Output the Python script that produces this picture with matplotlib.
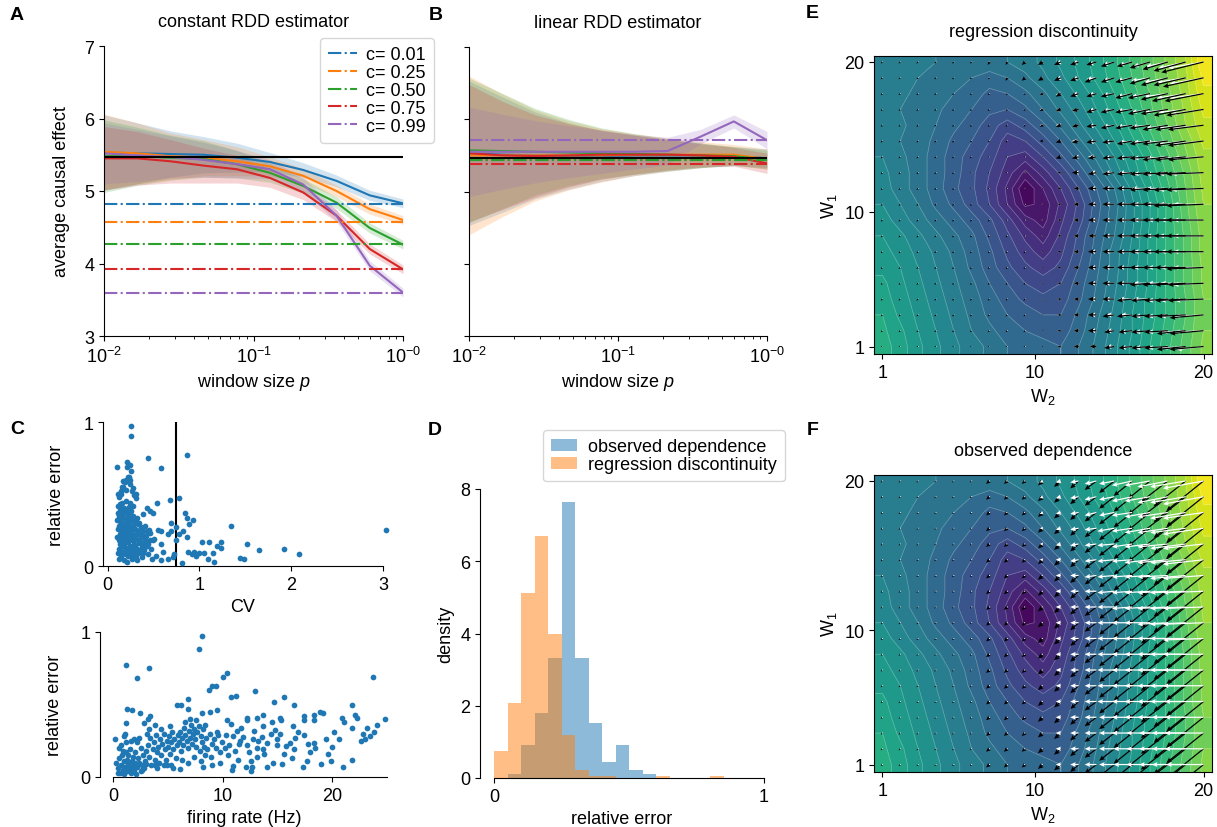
import numpy as np
import matplotlib.pyplot as plt

plt.rcParams['font.family'] = ['Liberation Sans', 'DejaVu Sans']
plt.rcParams['font.size'] = 13
plt.rcParams['axes.titlesize'] = 13
plt.rcParams['mathtext.fontset'] = 'custom'
plt.rcParams['mathtext.rm'] = 'Liberation Sans'
plt.rcParams['mathtext.it'] = 'Liberation Sans:italic'

# ---------------- data: panels A / B ----------------
window = [0.01, 0.0167, 0.0278, 0.0464, 0.0774, 0.129, 0.215, 0.359, 0.599, 1.0]
c_vals = ['0.01', '0.25', '0.50', '0.75', '0.99']
true_effect = 5.47

const_naive = [4.82, 4.57, 4.27, 3.92, 3.60]
const_mean = [
    [5.53, 5.52, 5.51, 5.50, 5.46, 5.40, 5.29, 5.14, 4.94, 4.83],
    [5.54, 5.52, 5.48, 5.46, 5.41, 5.34, 5.21, 5.00, 4.75, 4.60],
    [5.48, 5.48, 5.46, 5.44, 5.37, 5.25, 5.07, 4.84, 4.49, 4.26],
    [5.45, 5.45, 5.41, 5.35, 5.30, 5.18, 4.98, 4.66, 4.20, 3.92],
    [5.52, 5.49, 5.47, 5.43, 5.37, 5.30, 5.09, 4.66, 3.97, 3.60],
]
const_sd = [
    [0.52, 0.42, 0.32, 0.25, 0.20, 0.13, 0.10, 0.08, 0.07, 0.06],
    [0.52, 0.42, 0.32, 0.25, 0.20, 0.13, 0.10, 0.08, 0.07, 0.06],
    [0.50, 0.40, 0.31, 0.25, 0.19, 0.13, 0.10, 0.08, 0.07, 0.06],
    [0.44, 0.37, 0.30, 0.24, 0.19, 0.13, 0.10, 0.08, 0.07, 0.06],
    [0.42, 0.36, 0.29, 0.24, 0.19, 0.13, 0.10, 0.08, 0.07, 0.06],
]

lin_naive = [5.43, 5.43, 5.43, 5.38, 5.71]
lin_mean = [
    [5.53, 5.51, 5.50, 5.49, 5.49, 5.50, 5.50, 5.50, 5.49, 5.46],
    [5.50, 5.50, 5.50, 5.50, 5.50, 5.51, 5.51, 5.51, 5.51, 5.45],
    [5.57, 5.56, 5.55, 5.54, 5.53, 5.52, 5.51, 5.50, 5.49, 5.44],
    [5.53, 5.50, 5.49, 5.50, 5.51, 5.51, 5.51, 5.50, 5.48, 5.39],
    [5.55, 5.55, 5.55, 5.55, 5.55, 5.55, 5.56, 5.76, 5.97, 5.71],
]
lin_sd = [
    [1.00, 0.80, 0.60, 0.46, 0.35, 0.28, 0.22, 0.17, 0.13, 0.13],
    [1.10, 0.85, 0.63, 0.48, 0.37, 0.29, 0.23, 0.18, 0.14, 0.14],
    [1.00, 0.80, 0.60, 0.46, 0.35, 0.28, 0.22, 0.17, 0.13, 0.13],
    [0.95, 0.75, 0.57, 0.44, 0.34, 0.27, 0.21, 0.16, 0.13, 0.14],
    [0.62, 0.52, 0.43, 0.36, 0.30, 0.24, 0.19, 0.10, 0.09, 0.12],
]

# ---------------- data: panel C ----------------
cv_points = [
    (0.25, 0.97), (0.26, 0.90), (0.10, 0.69), (0.21, 0.72), (0.21, 0.69), (0.44, 0.75), (0.58, 0.68), (0.86, 0.77),
    (0.22, 0.62), (0.20, 0.60), (0.24, 0.60), (0.17, 0.59), (0.16, 0.55), (0.28, 0.54), (0.11, 0.50), (0.15, 0.50),
    (0.31, 0.50), (0.68, 0.46), (0.78, 0.47), (0.54, 0.44), (0.84, 0.37), (0.86, 0.33), (0.93, 0.32), (0.89, 0.29),
    (0.43, 0.40), (0.46, 0.38), (0.49, 0.37), (0.39, 0.36), (0.69, 0.30), (0.86, 0.20), (1.34, 0.28),
    (1.03, 0.17), (1.19, 0.14), (1.24, 0.17), (1.24, 0.125), (1.10, 0.17), (1.15, 0.09), (1.16, 0.03), (1.09, 0.05),
    (1.05, 0.09), (1.52, 0.15), (1.65, 0.11), (1.44, 0.056), (1.49, 0.047), (1.92, 0.12), (2.08, 0.08), (3.03, 0.25),
    (0.92, 0.08), (0.96, 0.07), (0.81, 0.02), (0.78, 0.22), (0.82, 0.24), (0.75, 0.18), (0.71, 0.06), (0.66, 0.05),
    (0.58, 0.04), (0.53, 0.07), (0.60, 0.10), (0.58, 0.15), (0.51, 0.19), (0.55, 0.25), (0.58, 0.24), (0.46, 0.23),
    (0.49, 0.18), (0.66, 0.22), (0.69, 0.24), (0.74, 0.27), (0.72, 0.08), (0.88, 0.10), (0.94, 0.10), (1.00, 0.09),
    (0.11, 0.42), (0.12, 0.35), (0.12, 0.28), (0.13, 0.22), (0.13, 0.15), (0.11, 0.09), (0.12, 0.05), (0.14, 0.38),
    (0.14, 0.31), (0.15, 0.25), (0.15, 0.18), (0.14, 0.12), (0.15, 0.07), (0.16, 0.44), (0.16, 0.34), (0.17, 0.29),
    (0.17, 0.21), (0.16, 0.14), (0.17, 0.10), (0.18, 0.04), (0.18, 0.40), (0.19, 0.33), (0.19, 0.26), (0.18, 0.19),
    (0.19, 0.13), (0.20, 0.08), (0.20, 0.45), (0.21, 0.37), (0.21, 0.30), (0.20, 0.23), (0.22, 0.17), (0.22, 0.11),
    (0.21, 0.03), (0.23, 0.41), (0.23, 0.34), (0.24, 0.27), (0.23, 0.20), (0.24, 0.14), (0.25, 0.07), (0.25, 0.38),
    (0.26, 0.31), (0.26, 0.24), (0.27, 0.18), (0.26, 0.10), (0.27, 0.05), (0.28, 0.35), (0.28, 0.28), (0.29, 0.21),
    (0.29, 0.15), (0.30, 0.08), (0.30, 0.32), (0.31, 0.25), (0.31, 0.19), (0.32, 0.12), (0.32, 0.04), (0.33, 0.29),
    (0.34, 0.23), (0.34, 0.16), (0.35, 0.10), (0.36, 0.27), (0.36, 0.20), (0.37, 0.13), (0.38, 0.06), (0.39, 0.24),
    (0.40, 0.17), (0.40, 0.11), (0.41, 0.28), (0.42, 0.21), (0.43, 0.14), (0.44, 0.08), (0.45, 0.25), (0.46, 0.18),
    (0.47, 0.12), (0.48, 0.05), (0.10, 0.32), (0.10, 0.20), (0.11, 0.26), (0.12, 0.18), (0.13, 0.40), (0.13, 0.33),
    (0.14, 0.20), (0.15, 0.30), (0.16, 0.23), (0.16, 0.08), (0.17, 0.37), (0.18, 0.27), (0.18, 0.15), (0.19, 0.21),
    (0.20, 0.31), (0.20, 0.12), (0.21, 0.25), (0.22, 0.07), (0.22, 0.29), (0.23, 0.23), (0.24, 0.09), (0.24, 0.32),
    (0.25, 0.19), (0.26, 0.13), (0.27, 0.27), (0.28, 0.11), (0.28, 0.19), (0.29, 0.30), (0.30, 0.14), (0.31, 0.06),
    (0.32, 0.22), (0.33, 0.09), (0.34, 0.30), (0.35, 0.17), (0.37, 0.22), (0.38, 0.15), (0.39, 0.09), (0.41, 0.18),
    (0.43, 0.24), (0.44, 0.15), (0.12, 0.48), (0.14, 0.50), (0.15, 0.52), (0.17, 0.55), (0.19, 0.58), (0.20, 0.53),
    (0.22, 0.60), (0.23, 0.62), (0.24, 0.57), (0.27, 0.52), (0.29, 0.49), (0.31, 0.47), (0.24, 0.70), (0.26, 0.66),
    (0.11, 0.37), (0.12, 0.12), (0.13, 0.27), (0.14, 0.43), (0.15, 0.36), (0.16, 0.27), (0.17, 0.17), (0.18, 0.33),
    (0.19, 0.09), (0.20, 0.38), (0.21, 0.19), (0.22, 0.35), (0.23, 0.27), (0.24, 0.44), (0.25, 0.12), (0.26, 0.35),
    (0.27, 0.22), (0.28, 0.42), (0.29, 0.09), (0.30, 0.26), (0.32, 0.33), (0.33, 0.18), (0.35, 0.25), (0.36, 0.11),
]
cv_threshold = 0.74

rate_points = [
    (8.13, 0.97), (7.82, 0.88), (1.13, 0.77), (3.29, 0.75), (2.19, 0.68), (10.44, 0.72), (10.02, 0.69), (9.04, 0.63),
    (9.35, 0.63), (8.74, 0.60), (23.75, 0.69), (12.97, 0.59), (10.72, 0.55), (11.18, 0.56), (14.7, 0.52), (15.56, 0.55),
    (16.53, 0.50), (21.8, 0.50), (22.07, 0.43), (24.8, 0.40), (5.8, 0.50), (6.2, 0.50), (6.82, 0.54), (6.88, 0.47),
    (1.31, 0.47), (1.68, 0.46), (2.41, 0.44), (1.16, 0.37), (2.8, 0.37), (3.2, 0.40), (3.4, 0.42), (3.8, 0.36),
    (8.07, 0.44), (8.83, 0.45), (9.5, 0.46), (10.41, 0.39), (11.33, 0.32), (12.18, 0.41), (12.25, 0.39), (13.1, 0.41),
    (13.7, 0.43), (14.5, 0.38), (15.2, 0.41), (15.3, 0.39), (16.4, 0.35), (17.4, 0.42), (17.4, 0.39), (18.3, 0.43),
    (18.3, 0.39), (18.9, 0.45), (19.2, 0.44), (20.9, 0.41), (21.1, 0.38), (21.8, 0.34), (23.0, 0.26), (23.2, 0.34),
    (23.8, 0.31), (22.6, 0.25), (20.2, 0.31), (20.6, 0.26), (19.4, 0.26), (20.0, 0.21), (19.6, 0.16), (19.9, 0.11),
    (21.8, 0.12), (21.0, 0.07), (19.0, 0.09), (18.0, 0.17), (17.3, 0.067), (17.7, 0.11), (16.35, 0.13), (15.6, 0.16),
    (14.6, 0.10), (15.4, 0.09), (14.07, 0.068), (13.8, 0.16), (13.1, 0.14), (12.6, 0.11), (12.7, 0.072), (12.6, 0.041),
    (12.1, 0.072), (10.96, 0.079), (10.87, 0.045), (9.8, 0.10), (9.0, 0.08), (8.2, 0.072), (6.1, 0.057), (5.3, 0.08),
    (4.9, 0.085), (3.8, 0.08), (11.63, 0.248), (12.18, 0.218), (12.42, 0.172), (12.79, 0.264), (13.24, 0.248),
    (14.09, 0.237), (14.98, 0.26), (14.92, 0.223), (15.74, 0.214), (16.13, 0.237), (16.59, 0.271), (16.9, 0.31),
    (17.41, 0.292), (17.81, 0.225), (18.36, 0.237), (18.42, 0.202), (16.5, 0.191), (13.18, 0.202), (13.7, 0.195),
    (14.4, 0.299), (14.76, 0.326), (15.22, 0.294), (13.7, 0.349), (12.88, 0.317), (13.55, 0.276), (11.87, 0.276),
    (11.48, 0.225), (11.72, 0.34), (10.8, 0.368), (10.2, 0.20), (10.5, 0.15), (10.9, 0.28), (11.1, 0.18), (10.3, 0.29),
    (11.4, 0.12), (10.6, 0.22), (22.3, 0.41), (23.5, 0.28), (22.8, 0.30), (24.1, 0.36),
    (0.3, 0.10), (0.4, 0.06), (0.5, 0.13), (0.6, 0.03), (0.7, 0.08), (0.8, 0.15), (0.9, 0.05), (1.0, 0.11),
    (1.0, 0.02), (1.1, 0.07), (1.2, 0.17), (1.3, 0.04), (1.3, 0.12), (1.4, 0.09), (1.5, 0.06), (1.5, 0.19),
    (1.6, 0.03), (1.7, 0.11), (1.8, 0.08), (1.8, 0.14), (1.9, 0.05), (2.0, 0.17), (2.0, 0.10), (2.1, 0.02),
    (2.2, 0.07), (2.3, 0.13), (2.4, 0.10), (2.5, 0.04), (2.5, 0.20), (2.6, 0.08), (2.7, 0.15), (2.8, 0.06),
    (2.9, 0.11), (3.0, 0.18), (3.0, 0.09), (0.2, 0.26), (0.5, 0.20), (0.7, 0.22), (1.0, 0.28), (1.1, 0.30),
    (1.2, 0.24), (1.6, 0.25), (1.9, 0.26), (2.2, 0.24), (2.4, 0.27), (0.4, 0.03), (0.9, 0.18), (1.4, 0.15),
    (2.6, 0.05), (3.2, 0.22), (3.3, 0.14), (3.4, 0.27), (3.5, 0.08), (3.6, 0.19), (3.7, 0.24), (3.8, 0.12),
    (3.9, 0.29), (4.0, 0.17), (4.1, 0.21), (4.2, 0.10), (4.3, 0.26), (4.4, 0.15), (4.5, 0.23), (4.6, 0.30),
    (4.7, 0.19), (4.8, 0.12), (4.9, 0.25), (5.0, 0.21), (5.1, 0.28), (5.2, 0.16), (5.3, 0.24), (5.4, 0.31),
    (5.5, 0.19), (5.6, 0.26), (5.7, 0.13), (5.8, 0.22), (5.9, 0.29), (6.0, 0.24), (3.3, 0.33), (4.0, 0.06),
    (4.6, 0.08), (5.5, 0.06), (3.1, 0.30), (4.4, 0.33), (5.2, 0.35), (6.1, 0.31), (6.2, 0.18), (6.3, 0.27),
    (6.4, 0.22), (6.5, 0.34), (6.6, 0.29), (6.7, 0.25), (6.8, 0.20), (6.9, 0.32), (7.0, 0.27), (7.1, 0.36),
    (7.2, 0.23), (7.3, 0.30), (7.4, 0.33), (7.5, 0.26), (7.6, 0.21), (7.7, 0.31), (7.8, 0.35), (7.9, 0.18),
    (8.0, 0.28), (8.1, 0.24), (8.2, 0.33), (8.3, 0.21), (8.4, 0.15), (8.5, 0.27), (8.6, 0.19), (8.8, 0.30),
    (9.0, 0.23), (9.2, 0.26), (9.4, 0.20), (9.6, 0.29), (9.8, 0.17), (6.3, 0.12), (6.8, 0.10), (7.4, 0.14),
    (8.0, 0.11), (8.9, 0.14), (9.5, 0.31), (9.9, 0.24), (7.0, 0.40), (7.6, 0.39), (6.6, 0.38), (8.4, 0.36),
]

# ---------------- data: panel D ----------------
err_edges = np.arange(0, 1.0001, 0.05)
obs_density = [0, 0.11, 0.91, 1.80, 3.32, 7.63, 3.32, 1.52, 0.45, 0.91,
               0.22, 0.11, 0, 0, 0, 0, 0, 0, 0, 0]
rdd_density = [0.76, 2.07, 5.12, 6.70, 3.98, 1.19, 0.22, 0.05, 0.05, 0,
               0, 0, 0.05, 0, 0, 0, 0.05, 0, 0, 0]

# ---------------- data: panels E / F ----------------
w_grid = np.linspace(1, 20, 19)

# error surface, rows from W1 = 20 (top) down to W1 = 1
surface_rows = """
42 42 41 40 40 39 39 40 42 45 49 53 58 63 69 75 81 88 100
42 41 40 39 38 36 34 36 39 43 47 52 57 62 68 74 80 87 97
42 41 39 38 36 34 31 32 35 39 44 49 54 60 66 72 79 86 95
42 40 38 37 34 32 29 28 31 36 41 46 52 58 64 71 78 85 93
43 41 38 36 33 30 26 22 26 31 37 43 49 55 62 69 76 84 91
43 40 38 35 31 28 24 18 20 26 32 39 45 52 59 66 74 81 89
44 41 38 34 30 26 22 16 14 20 27 34 41 48 55 63 71 79 87
45 42 38 34 30 25 20 14 7 14 21 29 37 45 53 61 69 77 86
46 42 38 34 29 25 19 11 0 8 16 24 32 40 49 58 67 76 85
48 44 40 35 31 26 20 12 3 5 13 21 30 38 47 56 65 75 84
50 46 42 38 34 30 25 18 10 6 15 22 31 39 47 56 65 74 83
52 49 45 41 37 33 27 21 15 10 17 25 33 40 48 57 65 73 82
54 50 47 43 39 34 29 23 18 14 19 26 34 42 49 57 65 73 82
55 52 48 44 40 35 30 25 21 18 21 28 35 42 50 57 65 73 81
57 53 49 45 41 37 32 28 24 22 24 30 36 43 50 57 65 73 81
58 54 50 46 42 38 34 30 27 25 26 31 37 44 51 58 65 72 80
60 55 51 47 43 39 35 32 30 28 28 33 39 45 52 58 65 72 80
61 57 52 48 44 40 37 34 32 31 30 34 40 46 52 59 66 73 80
62 58 53 49 45 42 39 36 34 33 32 36 41 47 53 60 67 74 81
"""

# gradient arrows (tenths of a weight unit), rows top -> bottom
rdd_true_u = """
-1 -1 -1 -1 -1 -1 -1 -1 -2 -3 -4 -5 -6 -8 -9 -12 -15 -19 -25
-1 -1 -1 -1 -1 -1 -1 -1 -2 -3 -4 -5 -7 -8 -10 -12 -16 -19 -24
-1 -1 -1 -1 -1 -1 -1 -1 -1 -2 -3 -5 -6 -8 -10 -13 -16 -20 -23
-1 -1 -1 -1 -1 -1 -1 -1 -1 -2 -3 -4 -6 -8 -10 -13 -16 -19 -22
-1 -1 -1 -1 -1 -1 -1 -1 -1 -2 -3 -4 -6 -8 -10 -12 -15 -18 -21
-1 -1 -1 -1 -1 -1 -1 -1 -1 -2 -3 -4 -6 -7 -9 -12 -15 -18 -21
-1 -1 -1 -1 -1 -1 -1 -1 -1 -1 -3 -4 -5 -7 -9 -12 -15 -18 -21
-1 -1 -1 -1 -1 -1 -1 -1 0 -1 -2 -4 -5 -7 -9 -12 -15 -18 -22
-1 -1 -1 -1 -1 -1 -1 -1 0 -1 -2 -3 -5 -7 -9 -12 -15 -19 -22
-1 -1 -1 -1 -1 -1 -1 -1 -1 -1 -2 -3 -5 -7 -9 -12 -15 -19 -22
-1 -1 -1 -1 -1 -1 -1 -1 -1 -1 -2 -3 -5 -7 -9 -12 -15 -19 -22
-1 -1 -1 -1 -1 -1 -1 -1 -1 -1 -2 -3 -5 -7 -9 -12 -15 -19 -22
-1 -1 -1 -1 -1 -1 -1 -1 -1 -1 -2 -3 -5 -7 -9 -12 -15 -19 -22
-1 -1 -1 -1 -1 -1 -1 -1 -1 -1 -2 -3 -5 -7 -9 -12 -15 -18 -22
-1 -1 -1 -1 -1 -1 -1 -1 -1 -1 -2 -3 -5 -7 -9 -12 -15 -18 -21
-1 -1 -1 -1 -1 -1 -1 -1 -1 -1 -2 -3 -5 -7 -9 -11 -14 -18 -21
-1 -1 -1 -1 -1 -1 -1 -1 -1 -1 -2 -3 -5 -7 -9 -11 -14 -17 -20
-1 -1 -1 -1 -1 -1 -1 -1 -1 -1 -2 -3 -5 -6 -8 -11 -14 -17 -20
-1 -1 -1 -1 -1 -1 -1 -1 -1 -1 -2 -3 -4 -6 -8 -11 -14 -17 -20
"""
rdd_true_v = """
-1 -1 -1 -1 -1 -1 -2 -2 -2 -2 -2 -2 -2 -3 -3 -4 -5 -6 -7
-1 -1 -1 -1 -1 -1 -1 -2 -2 -2 -2 -2 -3 -3 -3 -4 -5 -5 -6
-1 -1 -1 -1 -1 -1 -1 -1 -1 -1 -2 -2 -2 -2 -3 -3 -4 -5 -5
-1 -1 -1 -1 -1 -1 -1 -1 -1 -1 -1 -1 -2 -2 -2 -3 -3 -4 -4
-1 -1 -1 -1 -1 -1 -1 -1 -1 -1 -1 -1 -1 -2 -2 -2 -3 -3 -3
-1 -1 -1 -1 -1 -1 -1 -1 0 0 -1 -1 -1 -1 -2 -2 -2 -3 -3
-1 -1 -1 -1 -1 -1 0 0 0 0 -1 -1 -1 -1 -1 -1 -2 -2 -2
-1 -1 -1 -1 -1 0 0 0 0 0 0 0 -1 -1 -1 -1 -1 -1 -1
-1 -1 -1 -1 -1 0 0 0 0 0 0 0 0 0 0 -1 -1 -1 -1
-1 -1 -1 -1 -1 -1 0 0 0 0 0 0 0 0 0 0 0 -1 -1
-1 -1 -1 -1 -1 -1 -1 0 0 0 0 0 0 0 0 0 0 0 0
-1 -1 -1 -1 -1 -1 -1 -1 0 0 0 0 0 0 0 0 0 0 0
-1 -1 -1 -1 -1 -1 -1 -1 -1 0 0 0 0 0 0 0 0 0 0
-1 -1 -1 -1 -1 -1 -1 -1 -1 0 0 0 0 0 0 0 0 0 -1
-1 -1 -1 -1 -1 -1 -1 -1 -1 0 0 0 0 0 0 -1 -1 -1 -1
-1 -1 -1 -1 -1 -1 -1 -1 -1 0 0 0 0 0 -1 -1 -1 -1 -1
-1 -1 -1 -1 -1 -1 -1 -1 -1 0 0 0 0 -1 -1 -1 -1 -1 -2
-1 -1 -1 -1 -1 -1 -1 -1 -1 0 0 0 0 -1 -1 -1 -1 -2 -2
0 0 0 0 0 0 0 0 0 0 0 0 0 -1 -1 -1 -1 -2 -2
"""
rdd_est_u = """
0 0 0 0 0 0 -1 -1 -1 -2 -3 -4 -5 -7 -8 -10 -13 -16 -21
0 0 0 0 0 0 -1 -1 -1 -2 -3 -4 -6 -7 -9 -11 -14 -17 -20
0 0 0 0 0 0 0 -1 -1 -2 -3 -4 -5 -7 -9 -11 -14 -17 -20
0 0 0 0 0 0 0 -1 -1 -2 -3 -4 -5 -7 -9 -11 -14 -16 -19
0 0 0 0 0 0 0 0 -1 -2 -3 -4 -5 -7 -9 -11 -13 -16 -19
0 0 0 0 0 0 0 0 -1 -1 -2 -4 -5 -6 -8 -10 -13 -16 -18
0 0 0 0 0 0 0 0 0 -1 -2 -3 -5 -6 -8 -10 -13 -16 -18
0 0 0 0 0 0 0 0 0 -1 -2 -3 -4 -6 -8 -10 -13 -16 -19
0 0 0 0 0 0 0 0 0 -1 -2 -3 -4 -6 -8 -11 -13 -16 -19
0 0 0 0 0 0 0 0 0 -1 -2 -3 -4 -6 -8 -10 -13 -16 -18
0 0 0 0 0 0 0 0 0 -1 -2 -3 -4 -6 -8 -10 -12 -15 -18
0 0 0 0 0 0 0 0 0 -1 -2 -3 -5 -6 -8 -10 -13 -16 -18
0 0 0 0 0 0 0 0 0 -1 -2 -3 -4 -6 -8 -10 -13 -15 -18
0 0 0 0 0 0 0 0 0 -1 -2 -3 -4 -6 -8 -10 -12 -15 -18
0 0 0 0 0 0 0 0 0 -1 -2 -3 -4 -6 -8 -10 -12 -15 -18
0 0 0 0 0 0 0 0 0 -1 -2 -3 -4 -6 -8 -10 -12 -15 -17
0 0 0 0 0 0 0 0 0 -1 -2 -3 -4 -5 -7 -9 -12 -15 -17
0 0 0 0 0 0 0 0 0 -1 -2 -3 -4 -5 -7 -9 -12 -14 -17
0 0 0 0 0 0 0 0 0 -1 -2 -3 -4 -5 -7 -9 -12 -14 -16
"""
rdd_est_v = """
0 0 0 0 0 0 0 -1 -1 -1 -1 -1 -2 -2 -2 -3 -3 -4 -4
0 0 0 0 0 0 0 0 -1 -1 -1 -1 -1 -2 -2 -2 -3 -3 -4
0 0 0 0 0 0 0 0 0 -1 -1 -1 -1 -1 -2 -2 -2 -3 -3
0 0 0 0 0 0 0 0 0 0 -1 -1 -1 -1 -1 -2 -2 -2 -3
0 0 0 0 0 0 0 0 0 0 0 -1 -1 -1 -1 -1 -2 -2 -2
0 0 0 0 0 0 0 0 0 0 0 0 -1 -1 -1 -1 -1 -2 -2
0 0 0 0 0 0 0 0 0 0 0 0 0 -1 -1 -1 -1 -1 -1
0 0 0 0 0 0 0 0 0 0 0 0 0 0 0 -1 -1 -1 -1
0 0 0 0 0 0 0 0 0 0 0 0 0 0 0 0 0 -1 -1
0 0 0 0 0 0 0 0 0 0 0 0 0 0 0 0 0 0 0
0 0 0 0 0 0 0 0 0 0 0 0 0 0 0 0 0 0 0
0 0 0 0 0 0 0 0 0 0 0 0 0 0 0 0 0 0 0
0 0 0 0 0 0 0 0 0 0 0 0 0 0 0 0 0 0 0
0 0 0 0 0 0 0 0 0 0 0 0 0 0 0 0 0 0 0
0 0 0 0 0 0 0 0 0 0 0 0 0 0 0 0 0 0 -1
0 0 0 0 0 0 0 0 0 0 0 0 0 0 0 0 -1 -1 -1
0 0 0 0 0 0 0 0 0 0 0 0 0 0 0 -1 -1 -1 -1
0 0 0 0 0 0 0 0 0 0 0 0 0 0 -1 -1 -1 -1 -1
0 0 0 0 0 0 0 0 0 0 0 0 0 0 -1 -1 -1 -1 -2
"""
# observed dependence: the black field is the same in every row
obs_true_u_row = [-1, -1, -1, -1, -1, -1, -2, -2, -2, -3, -4, -5, -7, -9, -11, -13, -16, -19, -22]
obs_true_v_row = [-1, -1, -1, -1, -1, -1, -2, -2, -2, -3, -4, -5, -6, -8, -10, -12, -14, -17, -20]
obs_est_u = """
0 0 0 0 0 0 0 -1 -1 -2 -3 -5 -7 -9 -12 -15 -18 -21 -24
0 0 0 0 0 0 0 -1 -1 -2 -3 -5 -7 -9 -12 -15 -18 -21 -24
0 0 0 0 0 0 0 -1 -1 -2 -3 -5 -7 -9 -12 -15 -18 -21 -24
0 0 0 0 0 0 0 -1 -1 -2 -3 -5 -7 -10 -12 -15 -18 -21 -24
0 0 0 0 0 0 0 -1 -1 -2 -3 -5 -7 -10 -12 -15 -18 -21 -24
0 0 0 0 0 0 0 0 -1 -2 -3 -5 -7 -10 -12 -15 -18 -21 -24
0 0 0 0 0 0 0 0 -1 -1 -3 -5 -7 -10 -12 -15 -18 -21 -24
0 0 0 0 0 0 0 0 -1 -1 -3 -5 -7 -10 -12 -15 -18 -21 -24
0 0 0 0 0 0 0 0 -1 -1 -3 -5 -7 -10 -12 -15 -18 -21 -24
0 0 0 0 0 0 0 0 -1 -1 -3 -5 -7 -10 -12 -15 -18 -21 -24
0 0 0 0 0 0 0 0 -1 -1 -3 -5 -7 -10 -12 -15 -18 -21 -24
0 0 0 0 0 0 0 0 -1 -1 -3 -5 -7 -10 -12 -15 -18 -21 -24
0 0 0 0 0 0 0 0 -1 -1 -3 -5 -7 -10 -12 -15 -18 -21 -24
0 0 0 0 0 0 0 0 -1 -1 -3 -5 -7 -10 -12 -15 -18 -21 -24
0 0 0 0 0 0 0 0 -1 -1 -3 -5 -7 -10 -12 -15 -18 -21 -23
0 0 0 0 0 0 0 0 -1 -1 -3 -5 -7 -9 -12 -15 -18 -20 -23
0 0 0 0 0 0 0 0 -1 -1 -3 -5 -7 -9 -12 -14 -17 -20 -23
0 0 0 0 0 0 0 0 -1 -1 -3 -5 -7 -9 -11 -14 -17 -20 -23
0 0 0 0 0 0 0 0 -1 -1 -3 -5 -7 -9 -11 -14 -17 -20 -22
"""
obs_est_v = """
0 0 0 0 0 0 0 0 0 -1 -1 -1 -2 -2 -3 -3 -4 -4 -5
0 0 0 0 0 0 0 0 0 -1 -1 -1 -2 -2 -3 -3 -4 -4 -5
0 0 0 0 0 0 0 0 0 -1 -1 -1 -2 -2 -2 -3 -3 -4 -4
0 0 0 0 0 0 0 0 0 0 -1 -1 -1 -2 -2 -3 -3 -3 -4
0 0 0 0 0 0 0 0 0 0 -1 -1 -1 -1 -2 -2 -2 -3 -3
0 0 0 0 0 0 0 0 0 0 0 -1 -1 -1 -1 -2 -2 -2 -3
0 0 0 0 0 0 0 0 0 0 0 0 -1 -1 -1 -1 -1 -2 -2
0 0 0 0 0 0 0 0 0 0 0 0 0 -1 -1 -1 -1 -1 -1
0 0 0 0 0 0 0 0 0 0 0 0 0 0 -1 -1 -1 -1 -1
0 0 0 0 0 0 0 0 0 0 0 0 0 0 0 0 -1 -1 -1
0 0 0 0 0 0 0 0 0 0 0 0 0 0 0 0 0 0 -1
0 0 0 0 0 0 0 0 0 0 0 0 0 0 0 0 0 0 0
0 0 0 0 0 0 0 0 0 0 0 0 0 0 0 0 0 0 0
0 0 0 0 0 0 0 0 0 0 0 0 0 0 0 0 0 0 0
0 0 0 0 0 0 0 0 0 0 0 0 0 0 0 0 0 0 0
0 0 0 0 0 0 0 0 0 0 0 0 0 0 0 0 0 0 0
0 0 0 0 0 0 0 0 0 0 0 0 0 0 0 0 0 0 0
0 0 0 0 0 0 0 0 0 0 0 0 0 0 0 0 0 0 0
0 0 0 0 0 0 0 0 0 0 0 0 0 0 0 0 0 0 0
"""


def grid(txt, scale=1.0):
    rows = [r.split() for r in txt.strip().split('\n')]
    return np.flipud(np.array(rows, dtype=float)) * scale


# ---------------- figure ----------------
W, H = 1217, 828
fig = plt.figure(figsize=(W / 100, H / 100), dpi=100)


def px_axes(l, t, r, b):
    return fig.add_axes([l / W, 1 - b / H, (r - l) / W, (b - t) / H])


def clean(ax):
    ax.spines['top'].set_visible(False)
    ax.spines['right'].set_visible(False)


# A and B
axA = px_axes(104, 47, 403, 337)
axB = px_axes(469, 48, 767, 337)
for ax, means, sds, naive, title in [(axA, const_mean, const_sd, const_naive, 'constant RDD estimator'),
                                      (axB, lin_mean, lin_sd, lin_naive, 'linear RDD estimator')]:
    for i in range(5):
        m = np.array(means[i])
        s = np.array(sds[i])
        ax.fill_between(window, m - s, m + s, color='C%d' % i, alpha=0.2, lw=0)
    for i in range(5):
        ax.plot(window, means[i], color='C%d' % i, lw=1.5)
    for i in range(5):
        ax.axhline(naive[i], color='C%d' % i, ls='-.', lw=1.5, label='c= ' + c_vals[i])
    ax.axhline(true_effect, color='k', lw=1.5)
    ax.set_xscale('log')
    ax.set_xlim(0.01, 1)
    ax.set_ylim(3, 7)
    ax.set_xticks([0.01, 0.1, 1])
    ax.set_xticklabels(['$10^{-2}$', '$10^{-1}$', '$10^{-0}$'])
    ax.set_xlabel('window size $p$')
    ax.set_title(title, pad=14.5)
    clean(ax)

axA.set_yticks([3, 4, 5, 6, 7])
axA.set_ylabel('average causal effect', labelpad=10)
axB.set_yticks([3, 4, 5, 6, 7])
axB.set_yticklabels([])
axA.legend(loc='upper right', bbox_to_anchor=(1.134, 1.059), handlelength=1.6,
           handletextpad=0.5, labelspacing=0.05, borderpad=0.45)

# C top
axC1 = px_axes(103, 423, 383, 567)
cv_x, cv_y = zip(*cv_points)
axC1.scatter(cv_x, cv_y, s=17, color='C0', linewidths=0, clip_on=False, zorder=3)
axC1.axvline(cv_threshold, color='k', lw=1.5)
axC1.set_xlim(-0.05, 3.0)
axC1.set_ylim(0, 1)
axC1.set_xticks([0, 1, 2, 3])
axC1.set_yticks([0, 1])
axC1.set_xlabel('CV')
axC1.set_ylabel('relative error', labelpad=13)
clean(axC1)

# C bottom
axC2 = px_axes(100, 633, 388, 778)
fr_x, fr_y = zip(*rate_points)
axC2.scatter(fr_x, fr_y, s=17, color='C0', linewidths=0, clip_on=False, zorder=3)
axC2.set_xlim(-1.2, 25.1)
axC2.set_ylim(0, 1)
axC2.set_xticks([0, 10, 20])
axC2.set_yticks([0, 1])
axC2.spines['bottom'].set_bounds(0, 25)
axC2.set_xlabel('firing rate (Hz)')
axC2.set_ylabel('relative error', labelpad=12)
clean(axC2)

# D
axD = px_axes(480, 490, 764, 779)
axD.bar(err_edges[:-1], obs_density, width=0.05, align='edge', color='C0', alpha=0.5,
        label='observed dependence')
axD.bar(err_edges[:-1], rdd_density, width=0.05, align='edge', color='C1', alpha=0.5,
        label='regression discontinuity')
axD.set_xlim(-0.052, 1.0)
axD.set_ylim(0, 8)
axD.set_xticks([0, 1])
axD.set_yticks([0, 2, 4, 6, 8])
axD.spines['bottom'].set_bounds(0, 1)
axD.set_xlabel('relative error')
axD.set_ylabel('density')
axD.legend(loc='upper right', bbox_to_anchor=(1.106, 1.235), handlelength=1.45,
           handletextpad=0.6, labelspacing=0.05, borderpad=0.45)
clean(axD)

# E and F
Z = grid(surface_rows)
edge = np.concatenate(([0.5], w_grid, [20.5]))
Zp = np.pad(Z, 1, mode='edge')
X, Y = np.meshgrid(w_grid, w_grid)
levels = np.linspace(Z.min(), Z.max(), 26)
arrow_kw = dict(angles='xy', scale_units='xy', scale=1, width=0.0036,
                headwidth=4, headlength=4.5, headaxislength=4)

fields = [
    (px_axes(874, 57, 1212, 355), 'regression discontinuity',
     grid(rdd_est_u, 0.1), grid(rdd_est_v, 0.1), grid(rdd_true_u, 0.1), grid(rdd_true_v, 0.1), 5),
    (px_axes(874, 476, 1212, 773), 'observed dependence',
     grid(obs_est_u, 0.1), grid(obs_est_v, 0.1),
     np.tile(obs_true_u_row, (19, 1)) * 0.1, np.tile(obs_true_v_row, (19, 1)) * 0.1, 3),
]
for ax, title, eu, ev, tu, tv, black_z in fields:
    ax.contourf(edge, edge, Zp, levels=levels, cmap='viridis')
    ax.contour(edge, edge, Zp, levels=levels, colors='white', linewidths=0.5, alpha=0.3)
    ax.quiver(X, Y, eu, ev, color='white', zorder=4, **arrow_kw)
    ax.quiver(X, Y, tu, tv, color='black', zorder=black_z, **arrow_kw)
    ax.set_xlim(0.5, 20.5)
    ax.set_ylim(0.5, 20.4)
    ax.set_xticks([1, 10, 20])
    ax.set_yticks([1, 10, 20])
    ax.set_xlabel('W$_2$')
    ax.set_ylabel('W$_1$')
    ax.set_title(title, pad=14.5)

# panel letters
for letter, x, y in [('A', 17, 15), ('B', 436, 15), ('C', 17, 430), ('D', 435, 431),
                     ('E', 812, 14), ('F', 813, 431)]:
    fig.text(x / W, 1 - y / H, letter, fontsize=14, fontweight='bold', ha='center', va='center')

plt.savefig('out.png', dpi=100)
